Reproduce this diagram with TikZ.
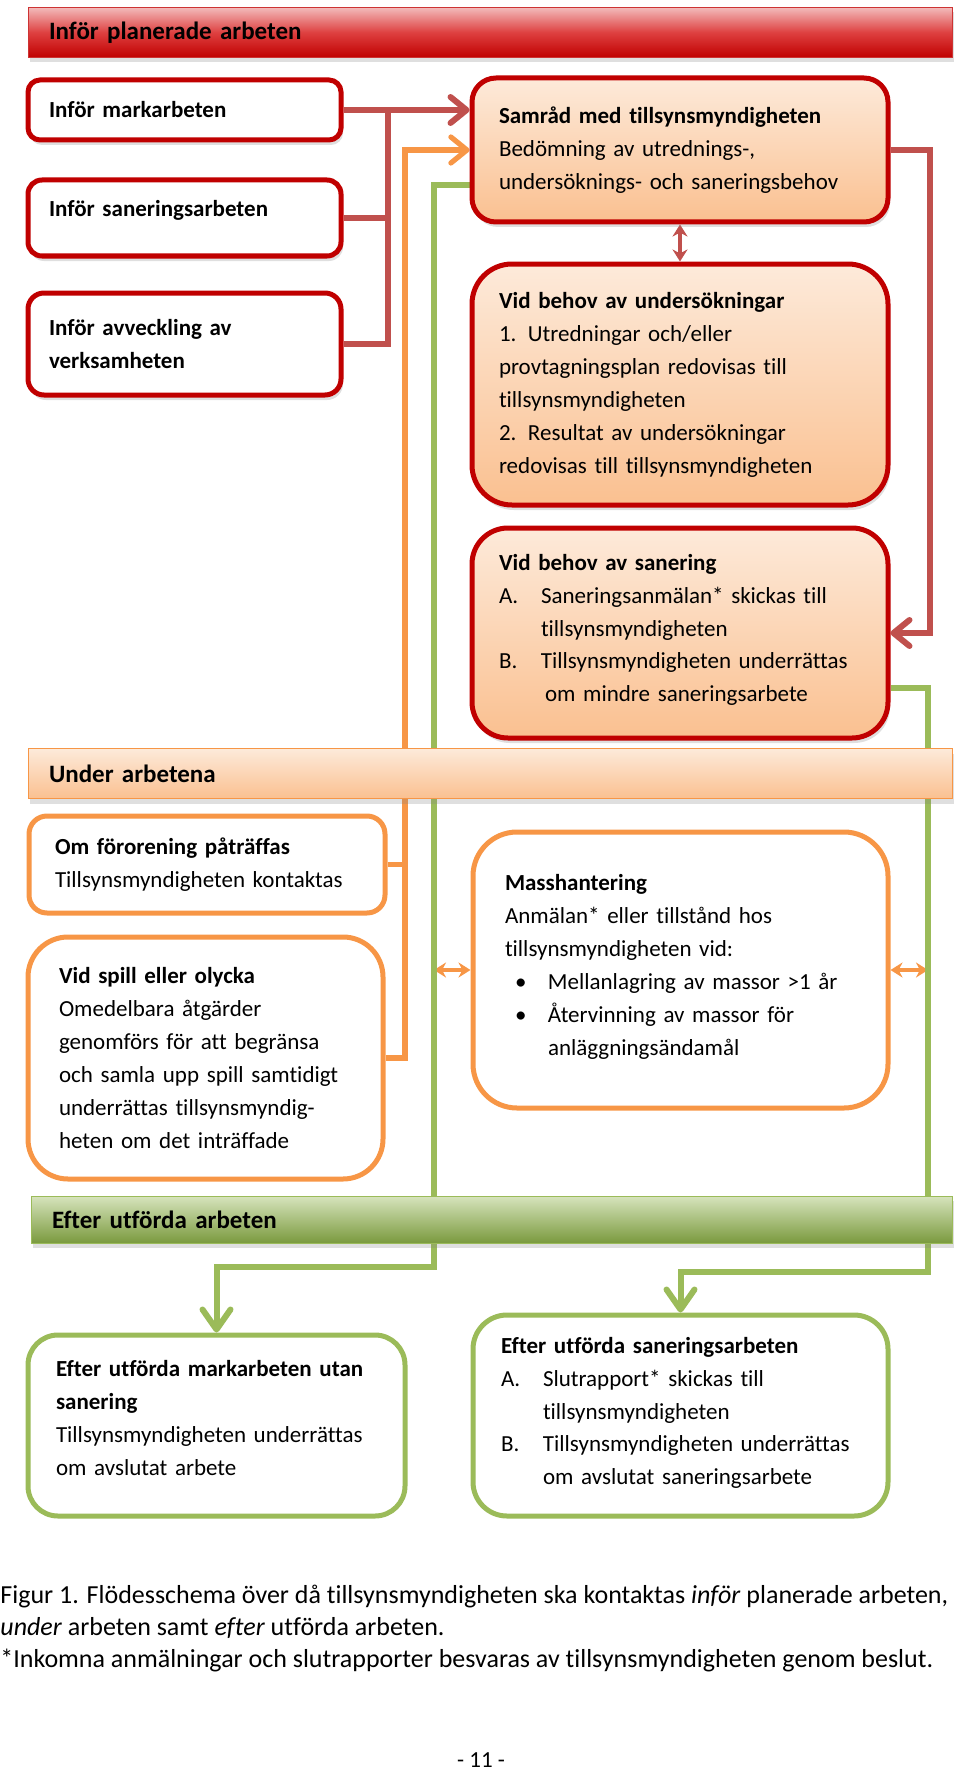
\documentclass[tikz,border=0pt]{standalone}
\usepackage{fontspec}
\setmainfont{Carlito}[Ligatures=NoCommon]
\usetikzlibrary{arrows.meta, shadows, backgrounds}

\definecolor{bordred}{HTML}{C00000}
\definecolor{linered}{HTML}{C0504D}
\definecolor{lineorange}{HTML}{F79646}
\definecolor{linegreen}{HTML}{9BBB59}
\definecolor{peachtop}{HTML}{FDEADA}
\definecolor{peachbot}{HTML}{FAC090}
\definecolor{barredtop}{HTML}{F2BABA}
\definecolor{barredmid}{HTML}{DE4040}
\definecolor{bargreentop}{HTML}{D7E4BD}
\definecolor{bargreenbot}{HTML}{7A9A3E}

\newcommand{\punkt}[3]{\makebox[21pt][l]{#1}\parbox[t]{#2}{#3\strut}}

\tikzset{
  barb/.tip={Straight Barb[length=8pt,width=13pt,round]},
  smalltip/.tip={Stealth[length=6pt,width=7.5pt]},
  shade/.style={drop shadow={shadow xshift=1pt, shadow yshift=-2.5pt, opacity=0.25}},
  redbox/.style={draw=bordred, line width=2.5pt, fill=white, align=left, inner ysep=0pt, shade},
  peachbox/.style={redbox, top color=peachtop, bottom color=peachbot},
  orangebox/.style={draw=lineorange, line width=2.5pt, fill=white, align=left, inner ysep=0pt},
  greenbox/.style={draw=linegreen, line width=2.5pt, fill=white, align=left, inner ysep=0pt},
  bar/.style={align=left, inner ysep=0pt, inner xsep=10.5pt, minimum height=25pt, font=\fontsize{12.5}{16.5}\selectfont\bfseries, shade},
  redline/.style={draw=linered, line width=3pt},
  orangeline/.style={draw=lineorange, line width=2.6pt},
  greenline/.style={draw=linegreen, line width=3pt},
}

\begin{document}
\begin{tikzpicture}[x=0.5pt, y=-0.5pt, every node/.style={font=\fontsize{11.5}{16.5}\selectfont}]
\useasboundingbox (0,0) rectangle (960,1776);

% --- Inför planerade arbeten ---
\node[bar, draw=bordred!80, top color=barredtop, bottom color=bordred, middle color=barredmid,
      minimum width=462pt, text width=441pt] (infor) at (490,32.5) {Inför planerade arbeten};

\node[redbox, rounded corners=6pt, minimum width=156.5pt, minimum height=30pt, inner xsep=10.5pt, text width=135.5pt]
  (mark) at (184.5,110) {\textbf{Inför markarbeten}};
\node[redbox, rounded corners=7pt, minimum width=156.5pt, minimum height=38pt, inner xsep=10.5pt, text width=135.5pt,
      text depth=10pt] (sanar) at (184.5,218) {\textbf{Inför saneringsarbeten}};
\node[redbox, rounded corners=8pt, minimum width=156.5pt, minimum height=51pt, inner xsep=10.5pt, text width=135.5pt]
  (avv) at (184.5,344) {\textbf{Inför avveckling av}\\ \textbf{verksamheten}};

\node[peachbox, rounded corners=12pt, minimum width=208pt, minimum height=72pt, inner xsep=13.5pt, text width=181pt]
  (samrad) at (680,150) {\textbf{Samråd med tillsynsmyndigheten}\\ Bedömning av utrednings-,\\ undersöknings- och saneringsbehov};
\node[peachbox, rounded corners=20pt, minimum width=208pt, minimum height=120.5pt, inner xsep=13.5pt, text width=181pt]
  (unders) at (680,384.5) {\textbf{Vid behov av undersökningar}\\ 1. Utredningar och/eller\\ provtagningsplan redovisas till\\
  tillsynsmyndigheten\\ 2. Resultat av undersökningar\\ redovisas till tillsynsmyndigheten};
\node[peachbox, rounded corners=18pt, minimum width=208pt, minimum height=105pt, inner xsep=13.5pt, text width=181pt]
  (saner) at (680,633) {\textbf{Vid behov av sanering}\\
  \punkt{A.}{158pt}{Saneringsanmälan* skickas till\\ tillsynsmyndigheten}\\[2pt]
  \punkt{B.}{158pt}{Tillsynsmyndigheten underrättas\\ \hspace*{2pt}om mindre saneringsarbete}};

% --- Under arbetena ---
\node[bar, draw=lineorange, top color=peachtop, bottom color=peachbot,
      minimum width=462pt, text width=441pt] (under) at (490,773.5) {Under arbetena};

\node[orangebox, rounded corners=9pt, minimum width=178pt, minimum height=48.5pt, inner xsep=13pt, text width=152pt]
  (omfor) at (207,864.5) {\textbf{Om förorening påträffas}\\ Tillsynsmyndigheten kontaktas};
\node[orangebox, rounded corners=20pt, minimum width=177.5pt, minimum height=121pt, inner xsep=15.5pt, text width=146.5pt]
  (spill) at (205.5,1058) {\textbf{Vid spill eller olycka}\\ Omedelbara åtgärder\\ genomförs för att begränsa\\
  och samla upp spill samtidigt\\ underrättas tillsynsmyndig-\\ heten om det inträffade};
\node[orangebox, rounded corners=22pt, minimum width=207.5pt, minimum height=138pt, inner xsep=16pt, text width=175.5pt]
  (mass) at (680.5,970) {\textbf{Masshantering}\\ Anmälan* eller tillstånd hos\\ tillsynsmyndigheten vid:\\
  \hspace*{5pt}\makebox[16.5pt][l]{\textbullet}Mellanlagring av massor >1 år\\
  \hspace*{5pt}\makebox[16.5pt][l]{\textbullet}\parbox[t]{150pt}{Återvinning av massor för\\ anläggningsändamål\strut}};

% --- Efter utförda arbeten ---
\node[bar, draw=linegreen, top color=bargreentop, bottom color=bargreenbot,
      minimum width=460.5pt, minimum height=23.5pt, text width=439.5pt] (efter) at (491.5,1219.5) {Efter utförda arbeten};

\node[greenbox, rounded corners=15pt, minimum width=188.5pt, minimum height=90.5pt, inner xsep=14pt, text width=160.5pt,
      text depth=57pt] (eftmark) at (216.5,1425.5) {\textbf{Efter utförda markarbeten utan}\\ \textbf{sanering}\\ Tillsynsmyndigheten underrättas\\ om avslutat arbete};
\node[greenbox, rounded corners=17pt, minimum width=207.5pt, minimum height=100.5pt, inner xsep=14pt, text width=179.5pt]
  (eftsan) at (680.5,1415.5) {\textbf{Efter utförda saneringsarbeten}\\
  \punkt{A.}{158pt}{Slutrapport* skickas till\\ tillsynsmyndigheten}\\[2pt]
  \punkt{B.}{158pt}{Tillsynsmyndigheten underrättas\\ om avslutat saneringsarbete}};

% --- Connectors ---
\coordinate (redtrunk) at (388,0);
\coordinate (redright) at (930,0);
\coordinate (orangetrunk) at (405,0);
\coordinate (greenleft) at (434,1267);
\coordinate (greenright) at (928,1272);

\begin{scope}[on background layer]
\draw[redline, -{barb}] (avv.east) -| (redtrunk |- mark.east) -- (samrad.west |- mark.east);
\draw[redline] (mark.east) -- (mark.east -| redtrunk);
\draw[redline] (sanar.east) -- (sanar.east -| redtrunk);
\draw[redline, -{barb}] (samrad.east) -| (redright |- saner.east) -- (saner.east);
\draw[redline, line width=2pt, {smalltip}-{smalltip}] (samrad.south) -- (unders.north);

\draw[orangeline, -{barb}] (spill.east) -| (orangetrunk |- samrad.west) -- (samrad.west);
\draw[orangeline] (omfor.east) -- (omfor.east -| orangetrunk);
\draw[orangeline, line width=2pt, {smalltip}-{smalltip}] (mass.west -| greenleft) -- (mass.west);
\draw[orangeline, line width=2pt, {smalltip}-{smalltip}] (mass.east) -- (mass.east -| greenright);

\draw[greenline, -{barb[length=10pt,width=14pt]}] ([yshift=-17.5pt]samrad.west) -| (greenleft) -- (greenleft -| eftmark.north) -- (eftmark.north);
\draw[greenline, -{barb[length=10pt,width=14pt]}] ([yshift=-27.5pt]saner.east) -| (greenright) -- (greenright -| eftsan.north) -- (eftsan.north);
\end{scope}

% --- Caption ---
\node[anchor=north west, align=left, inner sep=0pt, font=\fontsize{13}{16}\selectfont] (caption) at (0,1585)
  {Figur 1. Flödesschema över då tillsynsmyndigheten ska kontaktas \emph{inför} planerade arbeten,\\
   \emph{under} arbeten samt \emph{efter} utförda arbeten.\\
   *Inkomna anmälningar och slutrapporter besvaras av tillsynsmyndigheten genom beslut.};
\node[inner sep=0pt] (sida) at (481,1760) {- 11 -};
\end{tikzpicture}
\end{document}
